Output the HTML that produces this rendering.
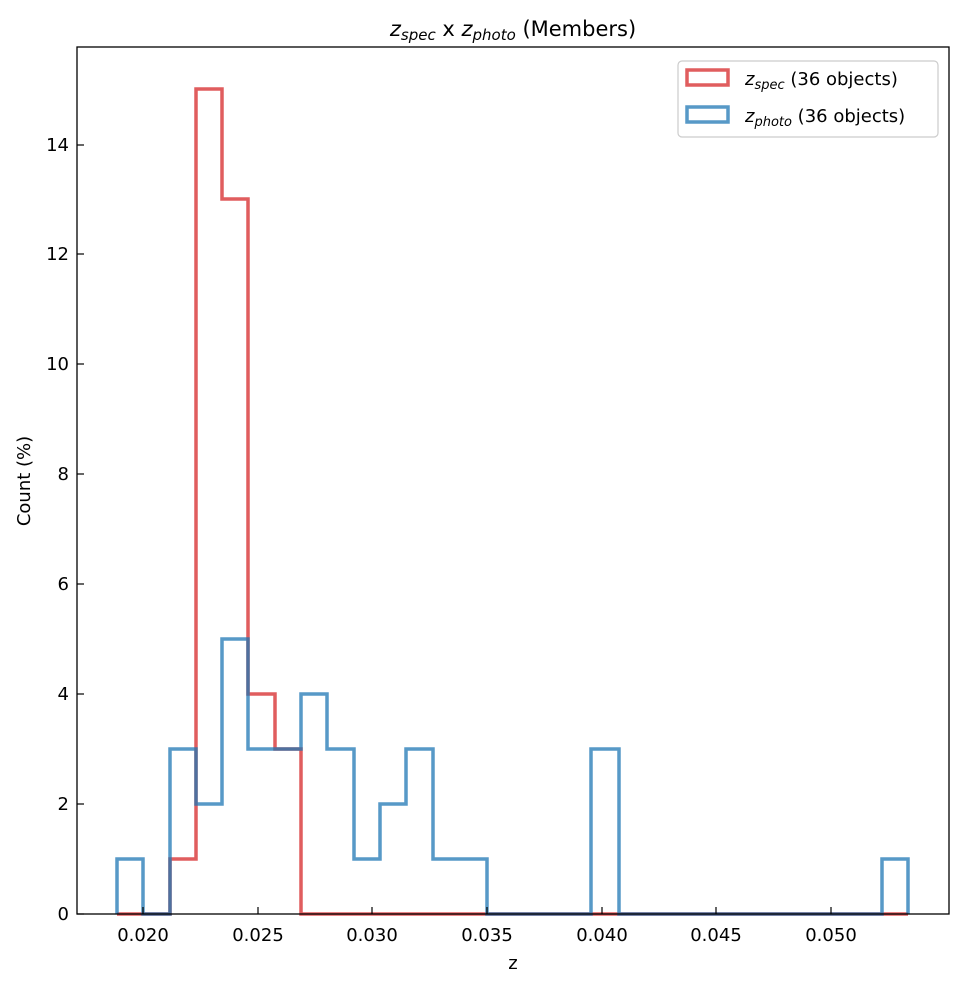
<!DOCTYPE html>
<html><head><meta charset="utf-8"><style>
body{margin:0;background:#fff;}
svg{display:block;font-family:"DejaVu Sans","Liberation Sans",sans-serif;}
</style></head><body>
<svg width="963" height="985" viewBox="0 0 963 985" xmlns="http://www.w3.org/2000/svg">
<rect width="963" height="985" fill="#fff"/>
<polyline fill="none" stroke="#d62728" stroke-opacity="0.75" stroke-width="3.5" points="117,914 170,914 170,859 196,859 196,89 222,89 222,199 248,199 248,694 275,694 275,749 301,749 301,914 908,914"/>
<polyline fill="none" stroke="#1f77b4" stroke-opacity="0.75" stroke-width="3.5" points="117,914 117,859 143,859 143,914 170,914 170,749 196,749 196,804 222,804 222,639 248,639 248,749 275,749 301,749 301,694 327,694 327,749 354,749 354,859 380,859 380,804 406,804 406,749 433,749 433,859 459,859 487,859 487,914 591,914 591,749 619,749 619,914 882,914 882,859 908,859 908,914"/>
<rect x="77" y="47" width="872" height="867" fill="none" stroke="#000" stroke-width="1.3"/>
<g stroke="#000" stroke-width="1.2">
<line x1="143" y1="914" x2="143" y2="907"/><line x1="258" y1="914" x2="258" y2="907"/><line x1="372" y1="914" x2="372" y2="907"/><line x1="487" y1="914" x2="487" y2="907"/><line x1="602" y1="914" x2="602" y2="907"/><line x1="716" y1="914" x2="716" y2="907"/><line x1="831" y1="914" x2="831" y2="907"/>
<line x1="77" y1="914" x2="84" y2="914"/><line x1="77" y1="804" x2="84" y2="804"/><line x1="77" y1="694" x2="84" y2="694"/><line x1="77" y1="584" x2="84" y2="584"/><line x1="77" y1="474" x2="84" y2="474"/><line x1="77" y1="364" x2="84" y2="364"/><line x1="77" y1="254" x2="84" y2="254"/><line x1="77" y1="145" x2="84" y2="145"/>
</g>
<g font-size="18" text-anchor="middle" fill="#000">
<text x="143" y="941">0.020</text><text x="258" y="941">0.025</text><text x="372" y="941">0.030</text><text x="487" y="941">0.035</text><text x="602" y="941">0.040</text><text x="716" y="941">0.045</text><text x="831" y="941">0.050</text>
<text x="513" y="969">z</text>
</g>
<g font-size="18" text-anchor="end" fill="#000">
<text x="69" y="920">0</text><text x="69" y="810">2</text><text x="69" y="700">4</text><text x="69" y="590">6</text><text x="69" y="480">8</text><text x="69" y="370">10</text><text x="69" y="260">12</text><text x="69" y="151">14</text>
</g>
<text x="30" y="481" font-size="18" text-anchor="middle" transform="rotate(-90 30 481)">Count (%)</text>
<text x="513" y="36" font-size="21" text-anchor="middle"><tspan font-style="italic">z</tspan><tspan font-style="italic" font-size="15" dy="4">spec</tspan><tspan dy="-4"> x </tspan><tspan font-style="italic">z</tspan><tspan font-style="italic" font-size="15" dy="4">photo</tspan><tspan dy="-4"> (Members)</tspan></text>
<rect x="678" y="61" width="260" height="76" rx="4" fill="#fff" stroke="#ccc" stroke-width="1.2"/>
<rect x="687" y="70" width="41" height="15" fill="none" stroke="#d62728" stroke-opacity="0.75" stroke-width="3.5"/>
<rect x="687" y="107" width="41" height="15" fill="none" stroke="#1f77b4" stroke-opacity="0.75" stroke-width="3.5"/>
<text x="745" y="85" font-size="18"><tspan font-style="italic">z</tspan><tspan font-style="italic" font-size="13" dy="4">spec</tspan><tspan dy="-4"> (36 objects)</tspan></text>
<text x="745" y="122" font-size="18"><tspan font-style="italic">z</tspan><tspan font-style="italic" font-size="13" dy="4">photo</tspan><tspan dy="-4"> (36 objects)</tspan></text>
</svg>
</body></html>
